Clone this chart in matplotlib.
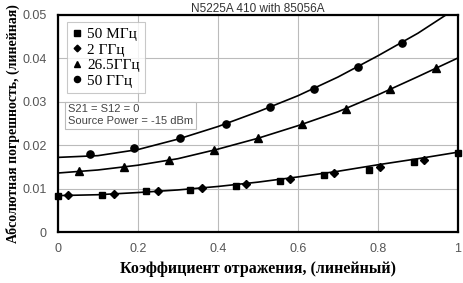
import matplotlib
matplotlib.use("Agg")
import matplotlib.pyplot as plt

# smooth curves
curve_x = [0.0, 0.1, 0.2, 0.3, 0.4, 0.5, 0.6, 0.7, 0.8, 0.9, 1.0]
curve_50g = [0.0172, 0.0176, 0.0190, 0.0214, 0.0243, 0.0277, 0.0314, 0.0357, 0.0406, 0.0458, 0.0518]
curve_26g = [0.0136, 0.0143, 0.0154, 0.0169, 0.0191, 0.0216, 0.0245, 0.0277, 0.0316, 0.0358, 0.0401]
curve_low = [0.0084, 0.0086, 0.0091, 0.0097, 0.0105, 0.0115, 0.0127, 0.0140, 0.0155, 0.0169, 0.0184]

# marker positions
sq_x = [0.0, 0.11, 0.22, 0.33, 0.445, 0.555, 0.665, 0.777, 0.89, 1.0]
sq_y = [0.0084, 0.0085, 0.0094, 0.0097, 0.0107, 0.0118, 0.0131, 0.0144, 0.0162, 0.0183]
dm_x = [0.025, 0.14, 0.25, 0.36, 0.47, 0.58, 0.69, 0.805, 0.915]
dm_y = [0.0085, 0.0088, 0.0095, 0.0102, 0.0111, 0.0123, 0.0136, 0.0150, 0.0166]
tr_x = [0.053, 0.165, 0.278, 0.39, 0.5, 0.61, 0.72, 0.83, 0.945]
tr_y = [0.0140, 0.0149, 0.0166, 0.0189, 0.0216, 0.0248, 0.0283, 0.0329, 0.0377]
ci_x = [0.08, 0.19, 0.305, 0.42, 0.53, 0.64, 0.75, 0.86]
ci_y = [0.0179, 0.0194, 0.0217, 0.0249, 0.0287, 0.0329, 0.0381, 0.0436]

labels = ["50 МГц", "2 ГГц", "26.5ГГц", "50 ГГц"]

fig = plt.figure(figsize=(4.63, 2.83), dpi=100)
ax = fig.add_axes([0.125, 0.180, 0.864, 0.767])

ax.plot(curve_x, curve_50g, color="black", lw=1.2)
ax.plot(curve_x, curve_26g, color="black", lw=1.2)
ax.plot(curve_x, curve_low, color="black", lw=1.2)

h1, = ax.plot(sq_x, sq_y, "s", color="black", ms=5, clip_on=False)
h2, = ax.plot(dm_x, dm_y, "D", color="black", ms=4, clip_on=False)
h3, = ax.plot(tr_x, tr_y, "^", color="black", ms=5.5)
h4, = ax.plot(ci_x, ci_y, "o", color="black", ms=5.2)

ax.set_xlim(0, 1)
ax.set_ylim(0, 0.05)
ax.set_xticks([0, 0.2, 0.4, 0.6, 0.8, 1])
ax.set_xticklabels(["0", "0.2", "0.4", "0.6", "0.8", "1"])
ax.set_yticks([0, 0.01, 0.02, 0.03, 0.04, 0.05])
ax.set_yticklabels(["0", "0.01", "0.02", "0.03", "0.04", "0.05"])
ax.tick_params(length=0, labelsize=9, labelcolor="#555555", pad=8)
for lab in ax.get_xticklabels() + ax.get_yticklabels():
    lab.set_family("Liberation Sans")
ax.grid(True, color="#bbbbbb", lw=0.8)
for s in ax.spines.values():
    s.set_linewidth(1.6)

leg = ax.legend([h1, h2, h3, h4], labels, loc="upper left",
                bbox_to_anchor=(0.022, 0.968), fancybox=False,
                prop={"family": "Liberation Serif", "size": 11},
                handlelength=0.6, handletextpad=0.4, borderpad=0.35,
                labelspacing=0.12, borderaxespad=0, markerscale=0.85)
leg.get_frame().set_edgecolor("#bbbbbb")
leg.get_frame().set_linewidth(0.8)

ax.text(0.025, 0.588, "S21 = S12 = 0\nSource Power = -15 dBm", transform=ax.transAxes,
        fontsize=8, family="Liberation Sans", color="#444444", va="top", ha="left",
        linespacing=1.25,
        bbox=dict(boxstyle="square,pad=0.25", fc="white", ec="#bbbbbb", lw=0.8))

ax.set_title("N5225A 410 with 85056A", fontsize=8.5, family="Liberation Sans",
             color="#333333", pad=2)
ax.set_xlabel("Коэффициент отражения, (линейный)", family="Liberation Serif",
              fontweight="bold", fontsize=11.5, labelpad=4)
ax.set_ylabel("Абсолютная погрешность, (линейная)", family="Liberation Serif",
              fontweight="bold", fontsize=10, labelpad=2)

fig.savefig("out.png", dpi=100)
